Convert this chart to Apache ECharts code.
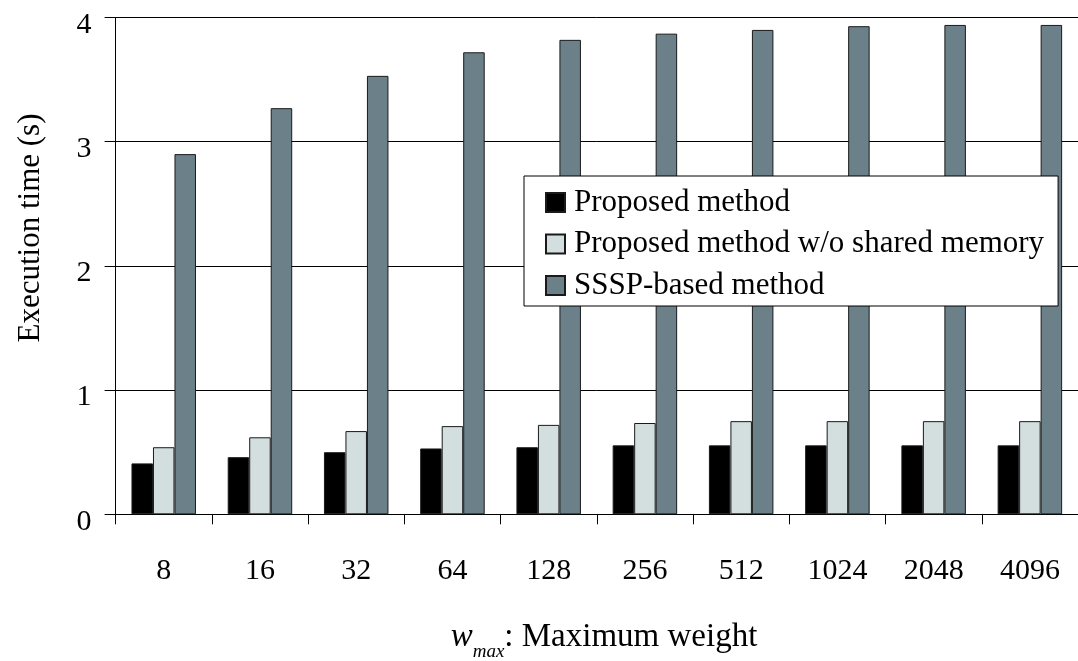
<!DOCTYPE html>
<html>
<head>
<meta charset="utf-8">
<script src="https://cdn.jsdelivr.net/npm/echarts@6/dist/echarts.min.js"></script>
<style>
  html, body { margin: 0; padding: 0; background: #fff; }
  #chart { width: 1078px; height: 661px; }
</style>
</head>
<body>
<div id="chart"></div>
<script>
// Maximum edge weight (x categories)
const weights = ['8', '16', '32', '64', '128', '256', '512', '1024', '2048', '4096'];
// Execution time in seconds for each method
const proposed = [0.41, 0.46, 0.50, 0.53, 0.54, 0.555, 0.555, 0.555, 0.555, 0.555];
const proposedNoShared = [0.54, 0.62, 0.67, 0.71, 0.72, 0.735, 0.75, 0.75, 0.75, 0.75];
const ssspBased = [2.90, 3.27, 3.53, 3.72, 3.82, 3.87, 3.90, 3.93, 3.94, 3.94];
const seriesNames = ['Proposed method', 'Proposed method w/o shared memory', 'SSSP-based method'];
const yTicks = [0, 1, 2, 3, 4];

const FONT = '"Liberation Serif", "Times New Roman", serif';
const chart = echarts.init(document.getElementById('chart'), null, { renderer: 'canvas' });

const barStyle = (color) => ({ color: color, borderColor: '#1a1a1a', borderWidth: 1 });

chart.setOption({
  animation: false,
  backgroundColor: '#fff',
  grid: { left: 115.6, right: -3.4, top: 17.5, bottom: 146.7, containLabel: false },
  xAxis: {
    type: 'category',
    data: weights,
    axisLine: { show: true, lineStyle: { color: '#000', width: 1 } },
    axisTick: { show: true, length: 10, lineStyle: { color: '#000', width: 1 } },
    axisLabel: { color: '#000', fontFamily: FONT, fontSize: 30, margin: 42 },
    splitLine: { show: false }
  },
  yAxis: {
    type: 'value',
    min: yTicks[0],
    max: yTicks[yTicks.length - 1],
    interval: 1,
    axisLine: { show: true, lineStyle: { color: '#000', width: 1 } },
    axisTick: { show: true, length: 11, lineStyle: { color: '#000', width: 1 } },
    axisLabel: {
      color: '#000', fontFamily: FONT, fontSize: 30, margin: 24,
      verticalAlign: 'top', lineHeight: 15
    },
    splitLine: { show: true, lineStyle: { color: '#000', width: 1 } }
  },
  legend: {
    orient: 'vertical',
    left: 524,
    top: 176,
    padding: [11, 14, 5, 21],
    backgroundColor: '#fff',
    borderColor: '#000',
    borderWidth: 1,
    borderRadius: 0,
    itemWidth: 19,
    itemHeight: 19,
    itemGap: 10.5,
    icon: 'rect',
    textStyle: { color: '#000', fontFamily: FONT, fontSize: 31, lineHeight: 30, padding: [0, 0, 0, 4] },
    data: seriesNames
  },
  graphic: [
    {
      type: 'text',
      x: 31,
      y: 228,
      rotation: Math.PI / 2,
      style: {
        text: 'Execution time (s)',
        font: '31px ' + FONT,
        fill: '#000',
        align: 'center',
        verticalAlign: 'middle'
      }
    },
    {
      type: 'text',
      x: 604,
      y: 638,
      style: {
        text: '{w|w}{s|max}{n|: Maximum weight}',
        align: 'center',
        verticalAlign: 'middle',
        fill: '#000',
        rich: {
          w: { fontFamily: FONT, fontSize: 33, lineHeight: 34, fontStyle: 'italic', fill: '#000', verticalAlign: 'top' },
          s: { fontFamily: FONT, fontSize: 19, lineHeight: 19, fontStyle: 'italic', fill: '#000', verticalAlign: 'top', padding: [21, 0, 0, 0] },
          n: { fontFamily: FONT, fontSize: 33, lineHeight: 34, fill: '#000', verticalAlign: 'top' }
        }
      }
    }
  ],
  series: [
    { name: seriesNames[0], type: 'bar', data: proposed, barWidth: 21.5, barGap: '0%', itemStyle: barStyle('#000000') },
    { name: seriesNames[1], type: 'bar', data: proposedNoShared, barWidth: 21.5, barGap: '0%', itemStyle: barStyle('#d3dedf') },
    { name: seriesNames[2], type: 'bar', data: ssspBased, barWidth: 21.5, barGap: '0%', itemStyle: barStyle('#6b8089') }
  ]
});
</script>
</body>
</html>
